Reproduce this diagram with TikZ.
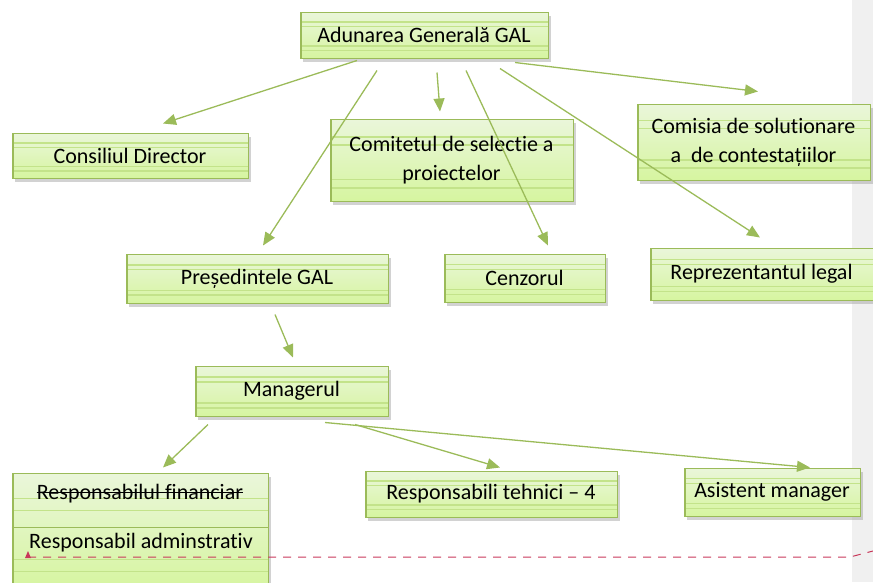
\documentclass[tikz,border=0pt]{standalone}
\usepackage{fontspec}
\setmainfont{Carlito}[RawFeature={-liga;-clig;-dlig}]
\usetikzlibrary{arrows.meta,shadows,calc}

\definecolor{galgreen}{HTML}{9BBB59}
\definecolor{boxtop}{HTML}{EAF6DA}
\definecolor{boxbot}{HTML}{D6F5A0}
\definecolor{stripe}{HTML}{C3E38A}
\definecolor{notered}{HTML}{C8385A}

\begin{document}
\begin{tikzpicture}[x=1pt,y=-1pt,
  box/.style={draw=galgreen, line width=1pt, top color=boxtop, bottom color=boxbot,
    inner sep=0pt, align=center, font=\fontsize{22}{29}\selectfont,
    drop shadow={shadow xshift=3pt, shadow yshift=-4pt, fill=black!35},
    path picture={
      \foreach \f in {0.22,0.32,0.74,0.84}
        \draw[stripe, line width=1.5pt]
          ($(path picture bounding box.north west)!\f!(path picture bounding box.south west)$) --
          ($(path picture bounding box.north east)!\f!(path picture bounding box.south east)$);
      \draw[galgreen, line width=3pt] (path picture bounding box.north west) -- (path picture bounding box.south west);
    }},
  link/.style={draw=galgreen, line width=1.3pt, -{Triangle[length=13pt,width=11pt]}},
  label/.style={font=\fontsize{22}{29}\selectfont, inner sep=0pt}]
  \useasboundingbox (0,0) rectangle (873,582);
  \clip (0,0) rectangle (873,582);

  % 1. Page margin on the right
  \fill[black!6] (852,0) rectangle (873,582);

  % 2. The boxes, row by row
  \node[box, minimum width=248pt, minimum height=46pt] (gal) at (424,35) {Adunarea Generală GAL};

  \node[box, minimum width=236pt, minimum height=45pt] (cons) at (130,155.5) {Consiliul Director};
  \node[box, minimum width=243pt, minimum height=82pt] (comit) at (451.5,160) {Comitetul de selectie a\\proiectelor};
  \node[box, minimum width=233pt, minimum height=76pt] (comis) at (753.5,142) {Comisia de solutionare\\a\ \ de contestațiilor};

  \node[box, minimum width=262pt, minimum height=49pt] (pres) at (257,278.5) {Președintele GAL};
  \node[box, minimum width=161pt, minimum height=48pt] (cenz) at (524.5,278) {Cenzorul};
  \node[box, minimum width=223pt, minimum height=52pt] (repr) at (761.5,274) {Reprezentantul legal};

  \node[box, minimum width=193pt, minimum height=50pt] (mang) at (291.5,391) {Managerul};

  \node[box, minimum width=256pt, minimum height=117pt] (resp) at (140,531.5) {};
  \node[box, minimum width=252pt, minimum height=46pt] (tehn) at (491,494) {Responsabili tehnici – 4};
  \node[box, minimum width=176pt, minimum height=48pt] (asist) at (772,492) {Asistent manager};

  % 3. The split box at the bottom left (first line struck out)
  \draw[galgreen, line width=1.2pt] ($(resp.north west)+(0,55)$) -- ($(resp.north east)+(0,55)$);
  \node[label] (fin) at (140,494) {Responsabilul financiar};
  \draw[line width=1.1pt] ([yshift=7pt]fin.base west) -- ([yshift=7pt]fin.base east);
  \node[label] (adm) at (141,543) {Responsabil adminstrativ};

  % 4. Arrows from the general assembly
  \draw[link] ([xshift=-67pt,yshift=-2pt]gal.south) -- ([xshift=33pt,yshift=9pt]cons.north);
  \draw[link] ([xshift=-47pt,yshift=-12pt]gal.south) -- ([xshift=6pt,yshift=8pt]pres.north);
  \draw[link] ([xshift=13pt,yshift=-14pt]gal.south) -- ([xshift=-11.5pt,yshift=7pt]comit.north);
  \draw[link] ([xshift=42pt,yshift=-12pt]gal.south) -- ([xshift=23.5pt,yshift=8pt]cenz.north);
  \draw[link] ([xshift=76pt,yshift=-10pt]gal.south) -- ([xshift=-1.5pt,yshift=10pt]repr.north);
  \draw[link] ([xshift=91pt,yshift=-4pt]gal.south) -- ([xshift=4.5pt,yshift=12pt]comis.north);

  % 5. Arrows down to the staff
  \draw[link] ([xshift=18pt,yshift=-11pt]pres.south) -- ([xshift=1.5pt,yshift=8pt]mang.north);
  \draw[link] ([xshift=-83.5pt,yshift=-8pt]mang.south) -- ([xshift=23pt,yshift=5pt]resp.north);
  \draw[link] ([xshift=63.5pt,yshift=-8pt]mang.south) -- ([xshift=9pt,yshift=3pt]tehn.north);
  \draw[link] ([xshift=33.5pt,yshift=-6pt]mang.south) -- ([xshift=38pt,yshift=0pt]asist.north);

  % 6. Comment marker
  \coordinate (cmt) at (28,557);
  \coordinate (bend) at (850,557);
  \coordinate (edge) at (873,551);
  \draw[notered, line width=1pt, dash pattern=on 8pt off 7pt] (cmt) -- (bend) -- (edge);
  \fill[notered] (cmt) ++(-3,1) -- ++(6,0) -- ++(-3,-7) -- cycle;
\end{tikzpicture}
\end{document}
